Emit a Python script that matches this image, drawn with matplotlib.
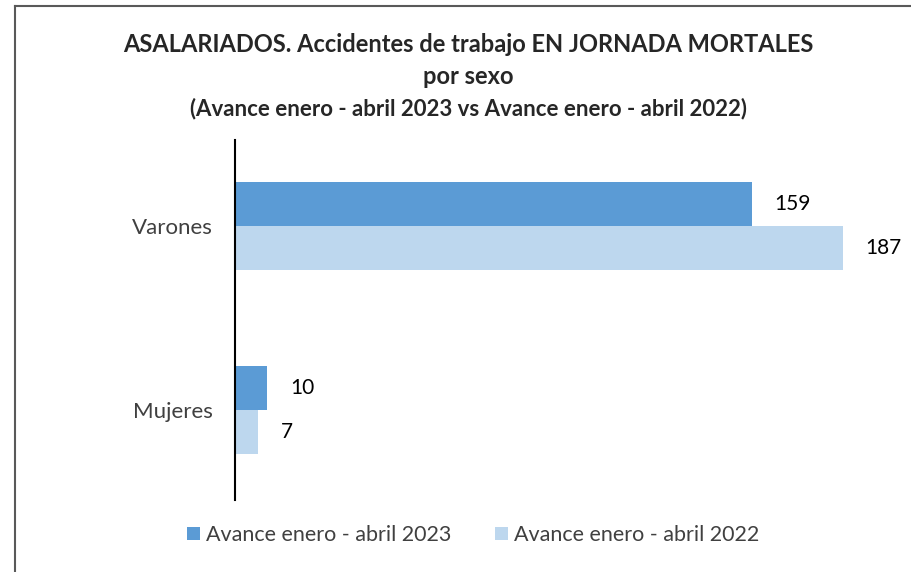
import matplotlib
matplotlib.use("Agg")
import matplotlib.pyplot as plt
from matplotlib.lines import Line2D
from matplotlib.patches import Patch

plt.rcParams['font.family'] = ['Lato', 'DejaVu Sans']

categories = ["Mujeres", "Varones"]
series_names = ["Avance enero - abril 2023", "Avance enero - abril 2022"]
values_2023 = [10, 159]
values_2022 = [7, 187]
colors = ["#5B9BD5", "#BDD7EE"]

W, H = 912, 572
fig = plt.figure(figsize=(W / 100, H / 100), dpi=100)

ax = fig.add_axes([235 / W, 1 - 500 / H, 650 / W, 360 / H])

bh = 0.239
pos = list(range(len(categories)))
ax.barh([p + bh / 2 for p in pos], values_2023, height=bh, color=colors[0], label=series_names[0])
ax.barh([p - bh / 2 for p in pos], values_2022, height=bh, color=colors[1], label=series_names[1])

for p, v in zip(pos, values_2023):
    ax.annotate(str(v), (v, p + bh / 2), xytext=(16.5, 0), textcoords="offset points",
                va="center", ha="left", fontsize=15, color="black")
for p, v in zip(pos, values_2022):
    ax.annotate(str(v), (v, p - bh / 2), xytext=(16.5, 0), textcoords="offset points",
                va="center", ha="left", fontsize=15, color="black")

ax.set_xlim(0, 200)
ax.set_ylim(-0.489, 1.467)
ax.set_yticks(pos)
ax.set_yticklabels(categories, fontsize=16, color="#404040")
ax.tick_params(axis="y", length=0, pad=16)
ax.set_xticks([])
for s in ["top", "right", "bottom"]:
    ax.spines[s].set_visible(False)
ax.spines["left"].set_color("black")
ax.spines["left"].set_linewidth(1.5)

fig.text(468 / W, 1 - 45 / H, "ASALARIADOS. Accidentes de trabajo EN JORNADA MORTALES",
         ha="center", va="center", fontsize=17, fontweight="bold", color="#262626")
fig.text(468 / W, 1 - 76 / H, "por sexo",
         ha="center", va="center", fontsize=17, fontweight="bold", color="#262626")
fig.text(468 / W, 1 - 109 / H, "(Avance enero - abril 2023 vs Avance enero - abril 2022)",
         ha="center", va="center", fontsize=16, fontweight="bold", color="#262626")

handles = [Patch(facecolor=c, edgecolor="none") for c in colors]
fig.legend(handles, series_names, loc="center", bbox_to_anchor=(473 / W, 1 - 535 / H),
           ncol=2, frameon=False, fontsize=15.5, labelcolor="#404040",
           handlelength=0.6, handleheight=0.6, handletextpad=0.3, columnspacing=2.0)

# outer border (left and top visible)
fig.add_artist(Line2D([15 / W, 15 / W], [0, 1 - 6 / H], transform=fig.transFigure,
                      color="#595959", lw=1.5))
fig.add_artist(Line2D([15 / W, 1], [1 - 6 / H, 1 - 6 / H], transform=fig.transFigure,
                      color="#595959", lw=1.5))

fig.savefig("out.png", dpi=100)
